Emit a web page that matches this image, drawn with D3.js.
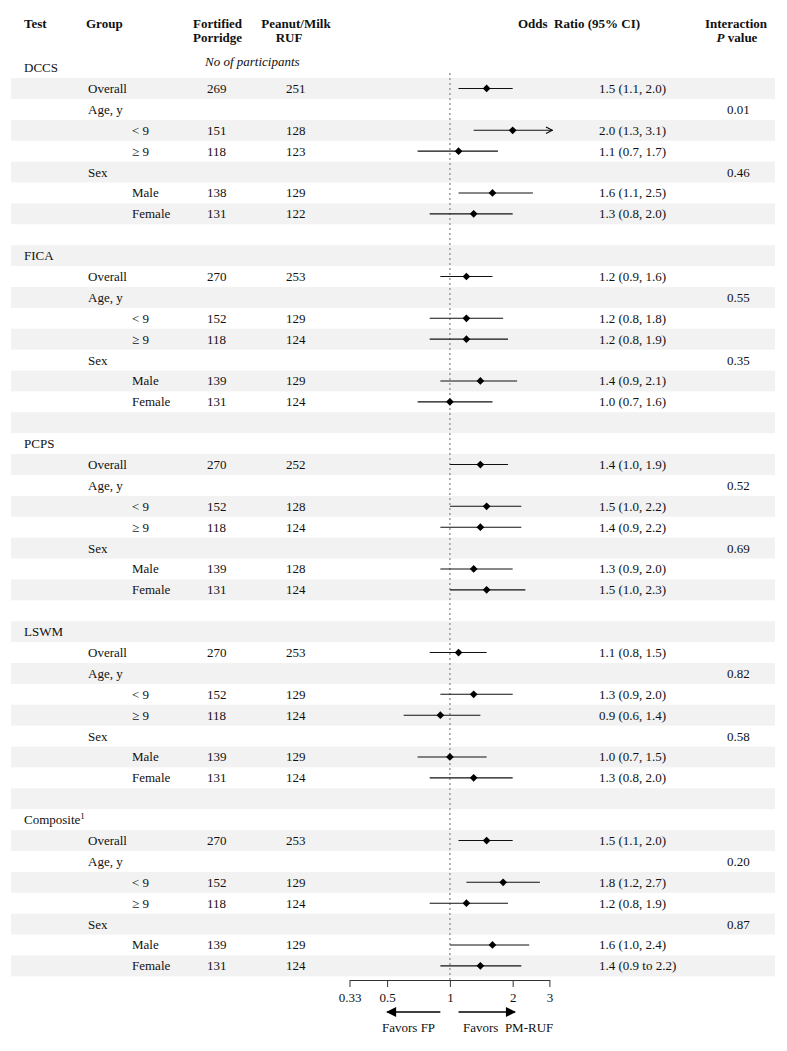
<!DOCTYPE html>
<html><head><meta charset="utf-8">
<script src="https://cdn.jsdelivr.net/npm/d3@7"></script>
<style>
body{margin:0;background:#fff;}
svg text{font-family:"Liberation Serif","Times New Roman",serif;fill:#111;}
</style></head>
<body>
<svg id="chart" width="787" height="1051"></svg>
<script>
// ---- data ----
const tests = ["DCCS", "FICA", "PCPS", "LSWM", "Composite"];
const subgroups = ["Overall", "< 9", "\u2265 9", "Male", "Female"];
const fpN = [[269,151,118,138,131],[270,152,118,139,131],[270,152,118,139,131],[270,152,118,139,131],[270,152,118,139,131]];
const pmN = [[251,128,123,129,122],[253,129,124,129,124],[252,128,124,128,124],[253,129,124,129,124],[253,129,124,129,124]];
const orEst = [[1.5,2.0,1.1,1.6,1.3],[1.2,1.2,1.2,1.4,1.0],[1.4,1.5,1.4,1.3,1.5],[1.1,1.3,0.9,1.0,1.3],[1.5,1.8,1.2,1.6,1.4]];
const orLow = [[1.1,1.3,0.7,1.1,0.8],[0.9,0.8,0.8,0.9,0.7],[1.0,1.0,0.9,0.9,1.0],[0.8,0.9,0.6,0.7,0.8],[1.1,1.2,0.8,1.0,0.9]];
const orHigh = [[2.0,3.1,1.7,2.5,2.0],[1.6,1.8,1.9,2.1,1.6],[1.9,2.2,2.2,2.0,2.3],[1.5,2.0,1.4,1.5,2.0],[2.0,2.7,1.9,2.4,2.2]];
const orText = [
  ["1.5 (1.1, 2.0)","2.0 (1.3, 3.1)","1.1 (0.7, 1.7)","1.6 (1.1, 2.5)","1.3 (0.8, 2.0)"],
  ["1.2 (0.9, 1.6)","1.2 (0.8, 1.8)","1.2 (0.8, 1.9)","1.4 (0.9, 2.1)","1.0 (0.7, 1.6)"],
  ["1.4 (1.0, 1.9)","1.5 (1.0, 2.2)","1.4 (0.9, 2.2)","1.3 (0.9, 2.0)","1.5 (1.0, 2.3)"],
  ["1.1 (0.8, 1.5)","1.3 (0.9, 2.0)","0.9 (0.6, 1.4)","1.0 (0.7, 1.5)","1.3 (0.8, 2.0)"],
  ["1.5 (1.1, 2.0)","1.8 (1.2, 2.7)","1.2 (0.8, 1.9)","1.6 (1.0, 2.4)","1.4 (0.9 to 2.2)"]
];
const pAge = ["0.01","0.55","0.52","0.82","0.20"];
const pSex = ["0.46","0.35","0.69","0.58","0.87"];
const axisTicks = [0.33, 0.5, 1, 2, 3];
const axisMin = 0.33, axisMax = 3;

// ---- build rows ----
const rows = [];
tests.forEach((t, ti) => {
  rows.push({type:"test", label:t, ti});
  rows.push({type:"data", label:"Overall", ti, si:0, indent:1});
  rows.push({type:"head", label:"Age, y", ti, p:pAge[ti]});
  rows.push({type:"data", label:subgroups[1], ti, si:1, indent:2});
  rows.push({type:"data", label:subgroups[2], ti, si:2, indent:2});
  rows.push({type:"head", label:"Sex", ti, p:pSex[ti]});
  rows.push({type:"data", label:subgroups[3], ti, si:3, indent:2});
  rows.push({type:"data", label:subgroups[4], ti, si:4, indent:2});
  if (ti < tests.length - 1) rows.push({type:"blank"});
});

const svg = d3.select("#chart");
const rowH = 20.89, row0 = 67.6;
const yc = i => row0 + i * rowH;
const x = d3.scaleLog().domain([axisMin, axisMax]).range([349.5, 549.4]);
const xText = {test:24, g1:88, g2:132, fp:207, pm:286, or:599, p:727};
const fs = 13;

// stripes
svg.append("g").selectAll("rect").data(rows.map((r,i)=>i).filter(i=>i%2===1))
  .join("rect").attr("x",11).attr("width",764)
  .attr("y", i=>yc(i)-rowH/2).attr("height", rowH).attr("fill","#f2f2f2");

// headers
const hdr = svg.append("g").attr("font-weight","bold").attr("font-size",fs);
hdr.append("text").attr("x",24).attr("y",28).text("Test");
hdr.append("text").attr("x",86).attr("y",28).text("Group");
hdr.append("text").attr("x",193).attr("y",28).text("Fortified");
hdr.append("text").attr("x",193).attr("y",42).text("Porridge");
hdr.append("text").attr("x",296).attr("y",28).attr("text-anchor","middle").text("Peanut/Milk");
hdr.append("text").attr("x",289).attr("y",42).attr("text-anchor","middle").text("RUF");
hdr.append("text").attr("x",579).attr("y",28).attr("text-anchor","middle").attr("xml:space","preserve").text("Odds  Ratio (95% CI)");
hdr.append("text").attr("x",736).attr("y",28).attr("text-anchor","middle").text("Interaction");
const pv = hdr.append("text").attr("x",737).attr("y",42).attr("text-anchor","middle");
pv.append("tspan").attr("font-style","italic").text("P");
pv.append("tspan").text(" value");
svg.append("text").attr("x",205).attr("y",66).attr("font-size",fs).attr("font-style","italic").text("No of participants");

// reference line
svg.append("line").attr("x1",x(1)).attr("x2",x(1)).attr("y1",73).attr("y2",980)
  .attr("stroke","#999").attr("stroke-width",1.5).attr("stroke-dasharray","2,3");

// row texts
const g = svg.append("g").attr("font-size",fs);
rows.forEach((r,i)=>{
  const by = yc(i) + 4.5;
  if (r.type==="test") {
    const t = g.append("text").attr("x",xText.test).attr("y",by).text(r.label);
    if (r.label==="Composite") t.append("tspan").attr("font-size",9).attr("dy",-5).text("1");
  } else if (r.type==="head") {
    g.append("text").attr("x",xText.g1).attr("y",by).text(r.label);
    g.append("text").attr("x",xText.p).attr("y",by).text(r.p);
  } else if (r.type==="data") {
    g.append("text").attr("x", r.indent===1?xText.g1:xText.g2).attr("y",by).text(r.label);
    g.append("text").attr("x",xText.fp).attr("y",by).text(fpN[r.ti][r.si]);
    g.append("text").attr("x",xText.pm).attr("y",by).text(pmN[r.ti][r.si]);
    g.append("text").attr("x",xText.or).attr("y",by).text(orText[r.ti][r.si]);
  }
});

// arrow marker
const defs = svg.append("defs");
defs.append("marker").attr("id","open").attr("viewBox","0 0 10 10").attr("refX",9).attr("refY",5)
  .attr("markerWidth",8).attr("markerHeight",8).attr("markerUnits","userSpaceOnUse").attr("orient","auto")
  .append("path").attr("d","M1,1 L9,5 L1,9").attr("fill","none").attr("stroke","#000").attr("stroke-width",1.3);
defs.append("marker").attr("id","solid").attr("viewBox","0 0 10 10").attr("refX",9).attr("refY",5)
  .attr("markerWidth",12).attr("markerHeight",10).attr("markerUnits","userSpaceOnUse").attr("orient","auto")
  .append("path").attr("d","M0,0 L10,5 L0,10 Z").attr("fill","#000");

// CI lines and points
const dataRows = rows.map((r,i)=>({...r,i})).filter(r=>r.type==="data");
const marks = svg.append("g");
marks.selectAll("line.ci").data(dataRows).join("line").attr("class","ci")
  .attr("x1", d=>x(Math.max(axisMin, orLow[d.ti][d.si])))
  .attr("x2", d=>x(orHigh[d.ti][d.si]))
  .attr("y1", d=>yc(d.i)).attr("y2", d=>yc(d.i))
  .attr("stroke","#111").attr("stroke-width",1.1)
  .attr("marker-end", d=> orHigh[d.ti][d.si] > axisMax ? "url(#open)" : null);
marks.selectAll("path.pt").data(dataRows).join("path").attr("class","pt")
  .attr("d", d3.symbol(d3.symbolSquare, 30)())
  .attr("transform", d=>`translate(${x(orEst[d.ti][d.si])},${yc(d.i)}) rotate(45)`)
  .attr("fill","#000");

// axis
const axY = 980;
const ax = svg.append("g").attr("transform",`translate(0,${axY})`)
  .call(d3.axisBottom(x).tickValues(axisTicks).tickFormat(d=>String(d)).tickSize(7).tickSizeOuter(0).tickPadding(6));
ax.selectAll("text").attr("font-family","Liberation Serif, serif").attr("font-size",fs).attr("fill","#111");
ax.selectAll("path,line").attr("stroke","#333");

// favors arrows
const ay = 1012;
svg.append("line").attr("x1",x(0.9)).attr("x2",x(0.5)).attr("y1",ay).attr("y2",ay)
  .attr("stroke","#000").attr("stroke-width",1.3).attr("marker-end","url(#solid)");
svg.append("line").attr("x1",x(1.1)).attr("x2",x(2.05)).attr("y1",ay).attr("y2",ay)
  .attr("stroke","#000").attr("stroke-width",1.3).attr("marker-end","url(#solid)");
svg.append("text").attr("x",382).attr("y",1032).attr("font-size",fs).text("Favors FP");
svg.append("text").attr("x",463).attr("y",1032).attr("font-size",fs).attr("xml:space","preserve").text("Favors  PM-RUF");
</script>
</body></html>
